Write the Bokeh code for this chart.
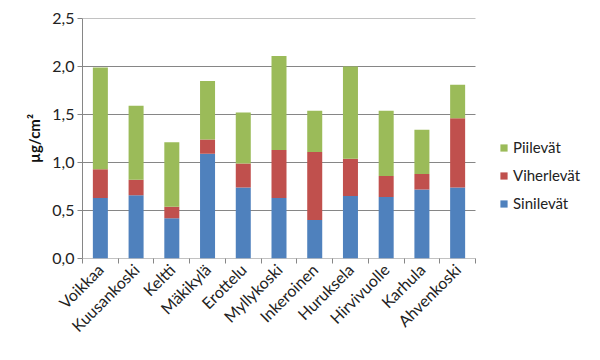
from math import pi
from bokeh.plotting import figure
from bokeh.models import ColumnDataSource, FixedTicker, Legend, LegendItem, Range1d
from bokeh.embed import file_html
from bokeh.resources import INLINE

sites = ["Voikkaa", "Kuusankoski", "Keltti", "Mäkikylä", "Erottelu", "Myllykoski",
         "Inkeroinen", "Huruksela", "Hirvivuolle", "Karhula", "Ahvenkoski"]
sini = [0.63, 0.66, 0.42, 1.09, 0.74, 0.63, 0.40, 0.65, 0.64, 0.72, 0.74]
viher = [0.30, 0.16, 0.12, 0.15, 0.25, 0.50, 0.71, 0.39, 0.22, 0.16, 0.72]
piile = [1.06, 0.77, 0.67, 0.61, 0.53, 0.98, 0.43, 0.96, 0.68, 0.46, 0.35]
y_ticks = [0.0, 0.5, 1.0, 1.5, 2.0, 2.5]
y_labels = ["0,0", "0,5", "1,0", "1,5", "2,0", "2,5"]
series_names = ["Sinilevät", "Viherlevät", "Piilevät"]
colors = ["#4F81BD", "#C0504D", "#9BBB59"]

n = len(sites)
xs = [i + 0.5 for i in range(n)]
source = ColumnDataSource(dict(x=xs, sini=sini, viher=viher, piile=piile))

FONT = "Lato"
GRAY = "#868686"

# frame extends to the right so the legend (drawn inside the frame) is not clipped;
# the category area [0, n] occupies 393 px of the 502 px wide frame
FRAME_W = 502
CAT_W = 393
p = figure(width=584, height=344, output_backend="svg", toolbar_location=None,
           x_range=Range1d(0, n * FRAME_W / CAT_W), y_range=Range1d(0, 2.5),
           min_border_left=82, min_border_right=0, min_border_top=18, min_border_bottom=79)
p.outline_line_color = None
p.background_fill_color = "white"

# horizontal gridlines limited to the category area (y=0 one doubles as the x axis line)
grid_src = ColumnDataSource(dict(x0=[0] * len(y_ticks), x1=[n] * len(y_ticks),
                                 y=y_ticks))
p.segment(x0="x0", x1="x1", y0="y", y1="y", source=grid_src,
          line_color=GRAY, line_width=1)

rs = p.vbar_stack(["sini", "viher", "piile"], x="x", width=0.42, color=colors,
                  line_color=None, source=source)

# x axis
p.xaxis.ticker = FixedTicker(ticks=xs, minor_ticks=list(range(n + 1)))
p.xaxis.major_label_overrides = {x: s for x, s in zip(xs, sites)}
p.xaxis.major_label_orientation = pi / 4
p.xaxis.major_tick_line_color = None
p.xaxis.minor_tick_line_color = GRAY
p.xaxis.minor_tick_out = 5
p.xaxis.minor_tick_in = 0
p.xaxis.axis_line_color = None
p.xaxis.major_label_text_font = FONT
p.xaxis.major_label_text_font_size = "16px"
p.xaxis.major_label_text_color = "#222222"
p.xaxis.major_label_standoff = 2
p.xgrid.grid_line_color = None

# y axis
p.yaxis.ticker = FixedTicker(ticks=y_ticks, minor_ticks=[])
p.yaxis.major_label_overrides = {t: l for t, l in zip(y_ticks, y_labels)}
p.yaxis.major_tick_line_color = GRAY
p.yaxis.major_tick_out = 5
p.yaxis.major_tick_in = 0
p.yaxis.axis_line_color = GRAY
p.yaxis.major_label_text_font = FONT
p.yaxis.major_label_text_font_size = "16px"
p.yaxis.major_label_text_color = "#222222"
p.yaxis.major_label_standoff = 3
p.yaxis.axis_label = "µg/cm²"
p.yaxis.axis_label_text_font = FONT
p.yaxis.axis_label_text_font_style = "bold"
p.yaxis.axis_label_text_font_size = "15px"
p.yaxis.axis_label_text_color = "#111111"
p.yaxis.axis_label_standoff = 6
p.ygrid.grid_line_color = None

items = [LegendItem(label=series_names[i], renderers=[rs[i]]) for i in (2, 1, 0)]
legend = Legend(items=items, location=(417, 46), padding=0, margin=0,
                border_line_color=None, background_fill_alpha=0,
                glyph_width=9, glyph_height=9, label_standoff=5, spacing=10,
                label_text_font=FONT, label_text_font_size="15px",
                label_text_color="#222222")
p.add_layout(legend, "center")

open("out.html", "w").write(file_html(p, INLINE))
